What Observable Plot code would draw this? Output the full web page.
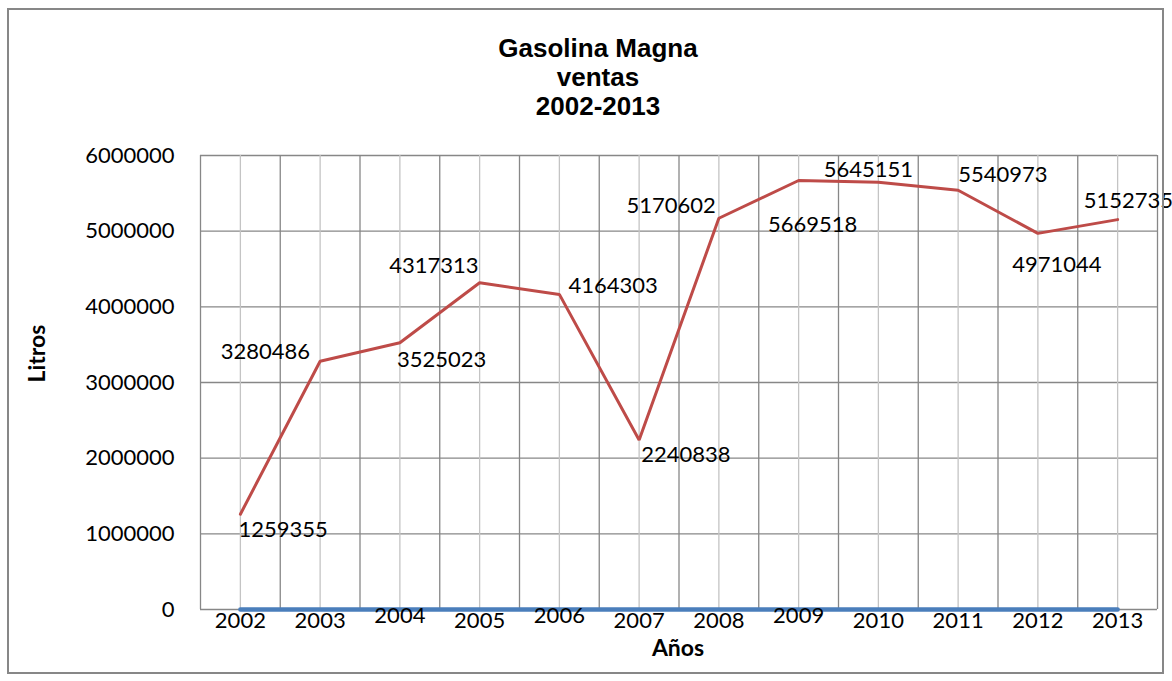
<!DOCTYPE html>
<html>
<head>
<meta charset="utf-8">
<script src="https://cdn.jsdelivr.net/npm/d3@7"></script>
<script src="https://cdn.jsdelivr.net/npm/@observablehq/plot@0.6"></script>
<style>
  html, body { margin: 0; padding: 0; background: #fff; }
  #wrap { position: relative; width: 1172px; height: 681px; overflow: hidden; }
  #border { position: absolute; left: 7px; top: 8px; width: 1157px; height: 666px; border: 2px solid #878787; pointer-events: none; box-sizing: border-box; }
  svg { display: block; }
</style>
</head>
<body>
<div id="wrap"><div id="chart"></div><div id="border"></div></div>
<script>
// ---- data ----
const years = [2002, 2003, 2004, 2005, 2006, 2007, 2008, 2009, 2010, 2011, 2012, 2013];
const ventas = [1259355, 3280486, 3525023, 4317313, 4164303, 2240838, 5170602, 5669518, 5645151, 5540973, 4971044, 5152735];
const serieBase = [0, 0, 0, 0, 0, 0, 0, 0, 0, 0, 0, 0];
const yTicks = [0, 1000000, 2000000, 3000000, 4000000, 5000000, 6000000];
const titleText = "Gasolina Magna\nventas\n2002-2013";
const xLabel = "Años";
const yLabel = "Litros";

// ---- tables built from the arrays ----
const magna = years.map((y, i) => ({year: y, value: ventas[i]}));
const base = years.map((y, i) => ({year: y, value: serieBase[i]}));
const boundaries = [years[0] - 0.5, ...years.map(y => y + 0.5)];

// label placement (layout only)
const place = [
  {a: "start", dx: -2, dy: 16},
  {a: "end", dx: -10, dy: -9},
  {a: "start", dx: -3, dy: 17},
  {a: "end", dx: -1, dy: -17},
  {a: "start", dx: 9, dy: -8},
  {a: "start", dx: 2, dy: 15},
  {a: "end", dx: -3, dy: -12},
  {a: "middle", dx: 14, dy: 44},
  {a: "middle", dx: -10, dy: -12},
  {a: "start", dx: 0, dy: -15},
  {a: "middle", dx: 19, dy: 32},
  {a: "start", dx: -34, dy: -19}
];
const raised = new Set([2004, 2006, 2009]);

const FONT = "Lato, 'Open Sans', sans-serif";
const dark = "#878787", light = "#c4c4c4";

const labelMarks = magna.map((d, i) => Plot.text([d], {
  x: "year", y: "value", text: d => String(d.value),
  textAnchor: place[i].a, dx: place[i].dx, dy: place[i].dy,
  fontSize: 22, fill: "#000"
}));

const chart = Plot.plot({
  width: 1172,
  height: 681,
  marginTop: 155,
  marginBottom: 72,
  marginLeft: 200,
  marginRight: 15,
  style: {fontFamily: FONT, fontSize: "22px", color: "#000", background: "#fff", overflow: "hidden"},
  x: {type: "linear", domain: [years[0] - 0.5, years[years.length - 1] + 0.5]},
  y: {domain: [0, 6000000]},
  marks: [
    Plot.ruleY(yTicks, {stroke: dark, strokeWidth: 1.3}),
    Plot.ruleX(years, {stroke: light, strokeWidth: 1.3}),
    Plot.ruleX(boundaries, {stroke: dark, strokeWidth: 1.3}),
    Plot.line(base, {x: "year", y: "value", stroke: "#4a7ebb", strokeWidth: 4.5}),
    Plot.line(magna, {x: "year", y: "value", stroke: "#be4b48", strokeWidth: 3, strokeLinejoin: "miter"}),
    Plot.axisY({ticks: yTicks, tickFormat: d3.format("d"), tickSize: 0, tickPadding: 26, label: null, fontSize: 22}),
    Plot.axisX({ticks: years.filter(y => !raised.has(y)), tickFormat: "d", tickSize: 0, tickPadding: 3, label: null, fontSize: 22}),
    Plot.axisX({ticks: years.filter(y => raised.has(y)), tickFormat: "d", tickSize: 0, tickPadding: -2, label: null, fontSize: 22}),
    ...labelMarks,
    Plot.text([titleText], {frameAnchor: "top", dx: -81, dy: -79, lineAnchor: "middle", lineHeight: 1.12,
      fontFamily: "'Liberation Sans', Arial, sans-serif", fontWeight: "bold", fontSize: 26, fill: "#000"}),
    Plot.text([xLabel], {frameAnchor: "bottom", dx: -1, dy: 39, lineAnchor: "middle", fontWeight: "bold", fontSize: 23, fill: "#000"}),
    Plot.text([yLabel], {frameAnchor: "left", dx: -163, rotate: -90, lineAnchor: "middle", fontWeight: "bold", fontSize: 23, fill: "#000"})
  ]
});
document.getElementById("chart").appendChild(chart);
</script>
</body>
</html>
